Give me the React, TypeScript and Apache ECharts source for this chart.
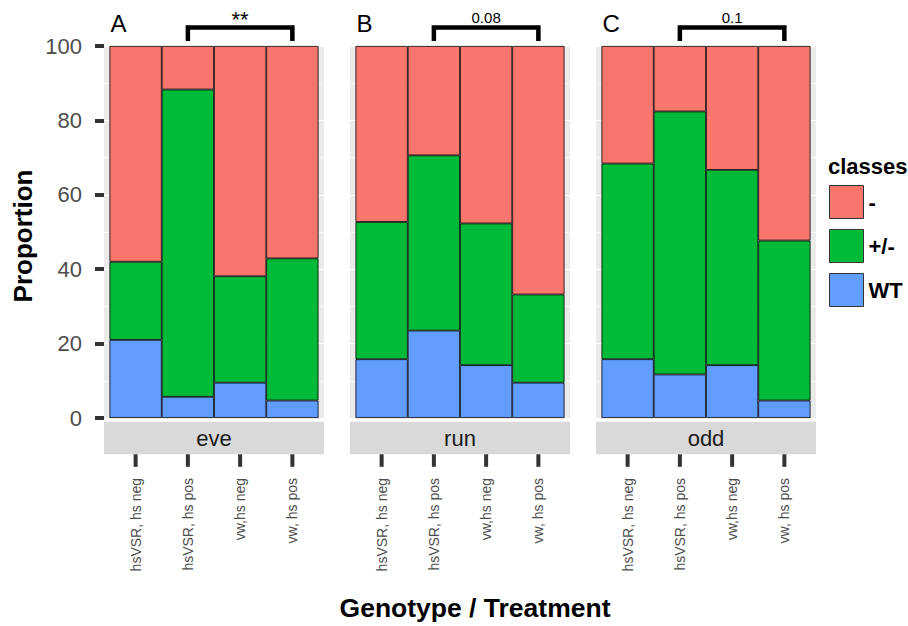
import React, { useEffect, useRef } from 'react';
import * as echarts from 'echarts';

const genotypes = ['hsVSR, hs neg', 'hsVSR, hs pos', 'vw,hs neg', 'vw, hs pos'];
const panels = ['eve', 'run', 'odd'];
const panelTags = ['A', 'B', 'C'];
const classOrder = ['-', '+/-', 'WT'];
const yTicks = [0, 20, 40, 60, 80, 100];

// proportions (%) per panel, per genotype
const eveWT = [21.0, 5.7, 9.5, 4.7];
const eveHet = [21.0, 82.6, 28.6, 38.2];
const eveMinus = [58.0, 11.7, 61.9, 57.1];

const runWT = [15.8, 23.5, 14.2, 9.5];
const runHet = [36.9, 47.1, 38.1, 23.7];
const runMinus = [47.3, 29.4, 47.7, 66.8];

const oddWT = [15.8, 11.7, 14.2, 4.7];
const oddHet = [52.6, 70.7, 52.5, 43.0];
const oddMinus = [31.6, 17.6, 33.3, 52.3];

const comparisons = [
  { panel: 0, from: 'hsVSR, hs pos', to: 'vw, hs pos', label: '**' },
  { panel: 1, from: 'hsVSR, hs pos', to: 'vw, hs pos', label: '0.08' },
  { panel: 2, from: 'hsVSR, hs pos', to: 'vw, hs pos', label: '0.1' },
];

const panelData = [
  { WT: eveWT, '+/-': eveHet, '-': eveMinus },
  { WT: runWT, '+/-': runHet, '-': runMinus },
  { WT: oddWT, '+/-': oddHet, '-': oddMinus },
];

const colors: Record<string, string> = { '-': '#F8766D', '+/-': '#00BA38', WT: '#619CFF' };

const FONT = 'Liberation Sans, Arial, Helvetica, sans-serif';
const panelLefts = [104, 350, 596];
const panelWidth = 220;
const barInset = 5.5;
const gridTop = 46;
const gridHeight = 372;
const stripTop = 421.7;
const stripHeight = 32.6;

export default function App() {
  const ref = useRef<HTMLDivElement>(null);
  useEffect(() => {
    if (!ref.current) return;
    const chart = echarts.init(ref.current, undefined, { renderer: 'svg' });

    const grids: any[] = [];
    const xAxes: any[] = [];
    const yAxes: any[] = [];
    // 0..2 panel backgrounds
    panels.forEach((_, p) => {
      grids.push({
        left: panelLefts[p], top: gridTop, width: panelWidth, height: gridHeight,
        show: true, backgroundColor: '#EBEBEB', borderWidth: 0,
      });
    });
    // 3..5 bars
    panels.forEach((_, p) => {
      grids.push({
        left: panelLefts[p] + barInset, top: gridTop, width: panelWidth - 2 * barInset, height: gridHeight,
      });
    });
    panels.forEach((_, p) => {
      xAxes.push({ type: 'value', gridIndex: p, min: 0, max: 1, show: false });
      yAxes.push({
        type: 'value', gridIndex: p, min: yTicks[0], max: yTicks[yTicks.length - 1],
        interval: yTicks[1] - yTicks[0],
        axisLine: { show: false },
        axisTick: { show: p === 0, length: 9, lineStyle: { width: 4, color: '#333333' } },
        axisLabel: { show: p === 0, margin: 22, fontSize: 22, color: '#4D4D4D', fontFamily: FONT },
        splitLine: { show: true, lineStyle: { color: '#FFFFFF', width: 1.2 } },
        minorTick: { show: false, splitNumber: 2 },
        minorSplitLine: { show: true, lineStyle: { color: '#FFFFFF', width: 0.6 } },
      });
    });
    panels.forEach((_, p) => {
      xAxes.push({
        type: 'category', gridIndex: 3 + p, data: genotypes,
        axisLine: { show: false },
        axisTick: { show: false },
        axisLabel: { rotate: 90, margin: 60, fontSize: 14, color: '#4D4D4D', fontFamily: FONT, interval: 0 },
      });
      yAxes.push({ type: 'value', gridIndex: 3 + p, min: 0, max: 100, show: false });
    });

    const series: any[] = [];
    panels.forEach((_, p) => {
      ['WT', '+/-', '-'].forEach((cls) => {
        series.push({
          type: 'bar', name: cls, xAxisIndex: 3 + p, yAxisIndex: 3 + p, stack: 'p' + p,
          barWidth: '100%', barCategoryGap: 0,
          data: (panelData[p] as any)[cls],
          itemStyle: { color: colors[cls], borderColor: '#000000', borderWidth: 0.8 },
          emphasis: { disabled: true },
        });
      });
    });

    chart.setOption({
      animation: false,
      backgroundColor: '#FFFFFF',
      textStyle: { fontFamily: FONT },
      grid: grids,
      xAxis: xAxes,
      yAxis: yAxes,
      series,
      legend: {
        data: classOrder, orient: 'vertical', left: 829, top: 185, padding: 0,
        itemWidth: 34, itemHeight: 33, itemGap: 10, icon: 'rect', selectedMode: false,
        itemStyle: { borderColor: '#333333', borderWidth: 1 },
        textStyle: { fontSize: 22, fontWeight: 'bold', color: '#000000', fontFamily: FONT },
      },
    });

    const graphics: any[] = [];
    panels.forEach((name, p) => {
      const left = panelLefts[p];
      graphics.push({
        type: 'rect', shape: { x: left, y: stripTop, width: panelWidth, height: stripHeight },
        style: { fill: '#D9D9D9' }, silent: true, z: -1,
      });
      graphics.push({
        type: 'text', x: left + panelWidth / 2, y: stripTop + stripHeight / 2,
        style: { text: name, fontSize: 22, fill: '#1A1A1A', fontFamily: FONT, textAlign: 'center', textVerticalAlign: 'middle' },
      });
      graphics.push({
        type: 'text', x: left + barInset + 1, y: 23,
        style: { text: panelTags[p], fontSize: 24, fill: '#000000', fontFamily: FONT, textAlign: 'left', textVerticalAlign: 'middle' },
      });
      // axis ticks under the strip, placed at the category positions of the axis
      genotypes.forEach((g) => {
        const x = chart.convertToPixel({ xAxisIndex: 3 + p } as any, g) as number;
        graphics.push({
          type: 'line',
          shape: { x1: x, y1: stripTop + stripHeight, x2: x, y2: stripTop + stripHeight + 12.5 },
          style: { stroke: '#333333', lineWidth: 4 },
        });
      });
    });
    comparisons.forEach((c) => {
      const x1 = chart.convertToPixel({ xAxisIndex: 3 + c.panel } as any, c.from) as number;
      const x2 = chart.convertToPixel({ xAxisIndex: 3 + c.panel } as any, c.to) as number;
      const stars = /^\*+$/.test(c.label);
      graphics.push({
        type: 'polyline',
        shape: { points: [[x1, 41], [x1, 27.5], [x2, 27.5], [x2, 41]] },
        style: { stroke: '#000000', lineWidth: 4.5, fill: 'none', lineJoin: 'miter', lineCap: 'butt' },
      });
      graphics.push({
        type: 'text', x: (x1 + x2) / 2, y: stars ? 19.5 : 17.5,
        style: { text: c.label, fontSize: stars ? 22 : 15, fill: '#000000', fontFamily: FONT, textAlign: 'center', textVerticalAlign: 'middle' },
      });
    });
    graphics.push({
      type: 'text', x: 23, y: 236, rotation: Math.PI / 2,
      style: { text: 'Proportion', fontSize: 26, fontWeight: 'bold', fill: '#000000', fontFamily: FONT, textAlign: 'center', textVerticalAlign: 'middle' },
    });
    graphics.push({
      type: 'text', x: 475, y: 608,
      style: { text: 'Genotype / Treatment', fontSize: 26.5, fontWeight: 'bold', fill: '#000000', fontFamily: FONT, textAlign: 'center', textVerticalAlign: 'middle' },
    });
    graphics.push({
      type: 'text', x: 828, y: 166,
      style: { text: 'classes', fontSize: 22, fontWeight: 'bold', fill: '#000000', fontFamily: FONT, textAlign: 'left', textVerticalAlign: 'middle' },
    });
    chart.setOption({ graphic: graphics });

    return () => chart.dispose();
  }, []);
  return (
    <div
      ref={ref}
      style={{ position: 'fixed', left: 0, top: 0, width: 908, height: 626, background: '#FFFFFF' }}
    />
  );
}
